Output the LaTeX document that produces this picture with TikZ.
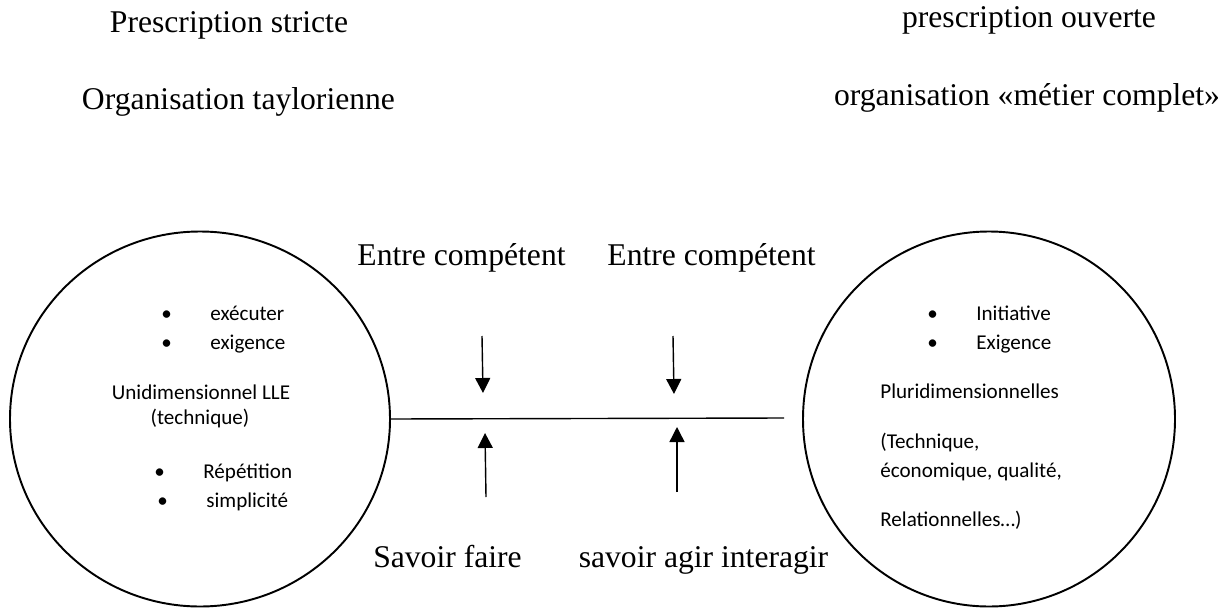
\documentclass[tikz,border=0pt]{standalone}
\usepackage{fontspec}
\setmainfont{Liberation Serif}
\newfontfamily\calibri{Carlito}
\usetikzlibrary{positioning, shapes.geometric, arrows.meta}
\tikzset{
    titre/.style={anchor=base, inner sep=0pt, font=\fontsize{18}{21}\selectfont}, % Big serif labels
    petit/.style={inner sep=0pt, font=\calibri\fontsize{12}{14}\selectfont}, % Text inside the circles
    rond/.style={ellipse, draw, line width=1.1pt, minimum height=7.5cm}, % The two circles
    fleche/.style={-{Triangle[length=3mm,width=3mm]}, line width=0.8pt}, % Pushing arrows
}
\newcommand{\puce}[1]{\makebox[9.8mm][l]{\textbullet}#1}

\begin{document}
\begin{tikzpicture}
  \useasboundingbox (0,0) rectangle (24.62,12.14);

  % top labels
  \node[titre] (t1) at (4.58,11.50) {Prescription stricte};
  \node[titre] (t2) at (20.58,11.58) {prescription ouverte};
  \node[titre] (t3) at (4.77,9.96) {Organisation taylorienne};
  \node[titre] (t4) at (20.54,10.04) {organisation «métier complet»};

  % the two circles
  \node[rond, minimum width=7.6cm] (gauche) at (4.00,3.76) {};
  \node[rond, minimum width=7.44cm] (droite) at (19.78,3.76) {};

  \node[petit, anchor=base west] (g1) at (3.22,5.74) {\puce{exécuter}};
  \node[petit, anchor=base west] (g2) at (3.22,5.16) {\puce{exigence}};
  \node[petit, anchor=base] (g3) at (4.02,4.16) {Unidimensionnel LLE};
  \node[petit, anchor=base] (g4) at (4.00,3.66) {(technique)};
  \node[petit, anchor=base west] (g5) at (3.08,2.58) {\puce{Répétition}};
  \node[petit, anchor=base west] (g6) at (3.14,2.00) {\puce{simplicité}};

  \node[petit, anchor=base west] (d1) at (18.54,5.74) {\puce{Initiative}};
  \node[petit, anchor=base west] (d2) at (18.54,5.16) {\puce{Exigence}};
  \node[petit, anchor=base west] (d3) at (17.60,4.18) {Pluridimensionnelles};
  \node[petit, anchor=base west] (d4) at (17.60,3.18) {(Technique,};
  \node[petit, anchor=base west] (d5) at (17.60,2.60) {économique, qualité,};
  \node[petit, anchor=base west] (d6) at (17.60,1.62) {Relationnelles…)};

  % middle line
  \coordinate (fin) at (15.68,3.78);
  \draw[line width=0.8pt] (gauche.east) -- (fin);

  % labels and arrows
  \node[titre] (e1) at (9.23,6.84) {Entre compétent};
  \node[titre] (e2) at (14.23,6.84) {Entre compétent};
  \node[titre] (s1) at (8.95,0.80) {Savoir faire};
  \node[titre] (s2) at (14.07,0.80) {savoir agir interagir};

  \coordinate (h1) at (9.64,5.42);
  \coordinate (h1b) at (9.66,4.28);
  \coordinate (h2) at (13.46,5.42);
  \coordinate (h2b) at (13.48,4.26);
  \coordinate (b1) at (9.72,2.20);
  \coordinate (b1b) at (9.70,3.48);
  \coordinate (b2) at (13.54,2.30);
  \coordinate (b2b) at (13.54,3.60);
  \draw[fleche] (h1) -- (h1b);
  \draw[fleche] (h2) -- (h2b);
  \draw[fleche] (b1) -- (b1b);
  \draw[fleche] (b2) -- (b2b);
\end{tikzpicture}
\end{document}
